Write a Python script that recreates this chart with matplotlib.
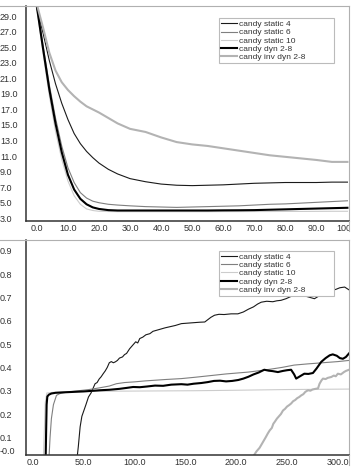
import matplotlib
matplotlib.use('Agg')
import matplotlib.pyplot as plt
from matplotlib.lines import Line2D
from matplotlib.transforms import Bbox, TransformedBbox

plt.rcParams['font.family'] = ['Liberation Sans', 'DejaVu Sans']
plt.rcParams['font.size'] = 6

labels = ['candy static 4', 'candy static 6', 'candy static 10',
          'candy dyn 2-8', 'candy inv dyn 2-8']
colors = ['#1a1a1a', '#7f7f7f', '#cccccc', '#000000', '#b3b3b3']
widths = [0.8, 0.8, 0.8, 1.5, 1.5]

# top panel, all series on the same x values
top_x = [0, 2, 4, 6, 8, 10, 12, 14, 16, 18, 20, 23, 26, 30, 35, 40, 45, 50,
         55, 60, 65, 70, 75, 80, 85, 90, 95, 100]
top_static4 = [30.0, 26.8, 23.3, 20.3, 17.8, 15.7, 13.9, 12.6, 11.6, 10.8, 10.1,
               9.3, 8.7, 8.1, 7.7, 7.4, 7.25, 7.2, 7.25, 7.3, 7.4, 7.5, 7.55,
               7.6, 7.6, 7.6, 7.65, 7.65]
top_static6 = [30.4, 25.2, 20.2, 15.9, 12.3, 9.5, 7.6, 6.3, 5.6, 5.2, 5.0, 4.8,
               4.7, 4.6, 4.5, 4.45, 4.4, 4.45, 4.5, 4.55, 4.6, 4.7, 4.8, 4.85,
               4.95, 5.05, 5.15, 5.25]
top_static10 = [30.0, 24.2, 18.8, 14.2, 10.6, 7.8, 5.9, 4.8, 4.2, 4.0, 3.9,
                3.87, 3.85, 3.85, 3.85, 3.85, 3.85, 3.85, 3.85, 3.86, 3.86,
                3.87, 3.87, 3.88, 3.88, 3.89, 3.9, 3.9]
top_dyn = [30.2, 24.8, 19.6, 15.2, 11.5, 8.6, 6.7, 5.5, 4.8, 4.4, 4.2, 4.05,
           4.0, 4.0, 4.0, 4.0, 4.0, 4.0, 4.0, 4.02, 4.03, 4.05, 4.1, 4.15,
           4.2, 4.25, 4.3, 4.35]
top_invdyn = [30.5, 27.5, 24.3, 22.0, 20.5, 19.5, 18.7, 18.0, 17.4, 17.0, 16.6,
              15.9, 15.2, 14.5, 14.1, 13.4, 12.8, 12.5, 12.3, 12.0, 11.7, 11.4,
              11.1, 10.9, 10.7, 10.5, 10.25, 10.25]

# bottom panel, each series with its own x values
bot_static4_x = [0, 43, 44.5, 46.3, 48, 50, 52, 54.5, 57, 59, 61, 63, 65, 67,
                 69, 71, 73, 75, 77, 79, 81, 83, 85, 88, 90, 92, 95, 98, 101,
                 103, 105, 108, 111, 115, 118, 122, 126, 130, 135, 140, 146,
                 152, 158, 164, 169, 172, 175, 178.6, 183, 188, 195, 201.6,
                 207, 212, 217, 221, 224.6, 230, 236, 240, 244, 249, 254, 258,
                 261, 265, 269, 273, 277, 280, 284, 287, 290, 294, 298, 302,
                 306.7, 311]
bot_static4 = [0, 0, 0.06, 0.145, 0.19, 0.215, 0.24, 0.273, 0.29, 0.31, 0.33,
               0.335, 0.35, 0.36, 0.373, 0.385, 0.40, 0.42, 0.425, 0.42, 0.424,
               0.43, 0.44, 0.445, 0.455, 0.46, 0.48, 0.495, 0.51, 0.505, 0.524,
               0.53, 0.54, 0.545, 0.555, 0.56, 0.565, 0.57, 0.575, 0.58, 0.588,
               0.59, 0.592, 0.594, 0.595, 0.605, 0.615, 0.624, 0.628, 0.627,
               0.63, 0.63, 0.638, 0.65, 0.66, 0.672, 0.68, 0.684, 0.682, 0.686,
               0.688, 0.695, 0.705, 0.712, 0.717, 0.71, 0.705, 0.70, 0.695,
               0.703, 0.713, 0.72, 0.724, 0.73, 0.735, 0.742, 0.745, 0.733]
bot_static6_x = [0, 15.5, 16.7, 18, 20, 23, 26, 28.2, 35, 45, 55, 65, 75, 82,
                 90, 100, 110, 120, 130, 146, 160, 175, 190, 212, 230, 245,
                 257, 270, 285, 300, 311]
bot_static6 = [0, 0, 0.10, 0.18, 0.24, 0.28, 0.287, 0.29, 0.295, 0.30, 0.305,
               0.312, 0.32, 0.33, 0.335, 0.338, 0.342, 0.345, 0.348, 0.352,
               0.358, 0.365, 0.372, 0.38, 0.39, 0.40, 0.41, 0.415, 0.42, 0.425,
               0.43]
bot_static10_x = [0, 10, 11, 12, 13.5, 20, 40, 80, 120, 160, 200, 250, 311]
bot_static10 = [0, 0, 0.12, 0.25, 0.29, 0.293, 0.296, 0.298, 0.299, 0.30,
                0.302, 0.305, 0.307]
bot_dyn_x = [0, 12.3, 12.8, 13.3, 14, 15.5, 18, 22, 30, 40, 50, 60, 66, 75, 85,
             92, 98.5, 105, 112, 120, 128, 136, 146, 152, 158, 165.5, 172, 178,
             184, 190, 196, 202, 207, 212, 217, 222, 227.6, 232, 236, 241, 246,
             250, 254, 257, 259, 262, 267, 271, 275.5, 279, 283.7, 288, 292,
             295, 299, 302, 305, 308, 311]
bot_dyn = [0, 0, 0.12, 0.24, 0.275, 0.283, 0.288, 0.291, 0.293, 0.295, 0.297,
           0.30, 0.302, 0.304, 0.308, 0.312, 0.316, 0.315, 0.318, 0.322, 0.321,
           0.326, 0.328, 0.326, 0.33, 0.333, 0.337, 0.342, 0.343, 0.34, 0.342,
           0.346, 0.352, 0.36, 0.37, 0.378, 0.39, 0.386, 0.384, 0.38, 0.385,
           0.388, 0.39, 0.37, 0.352, 0.36, 0.373, 0.372, 0.376, 0.395, 0.424,
           0.44, 0.452, 0.456, 0.45, 0.44, 0.437, 0.445, 0.46]
bot_invdyn_x = [0, 215, 217, 220, 223, 225, 227, 229, 231, 233, 235, 236.5, 238,
                240, 242, 244, 246, 248, 250, 252, 254, 256, 258, 260, 262, 264,
                266, 268, 270.6, 273, 275, 278, 280.5, 282, 284, 285.4, 288,
                290, 293.6, 296, 298, 300, 303, 306, 308, 311]
bot_invdyn = [0, 0, 0.02, 0.04, 0.055, 0.07, 0.085, 0.10, 0.116, 0.13, 0.14,
              0.158, 0.167, 0.18, 0.19, 0.2, 0.215, 0.222, 0.232, 0.238, 0.245,
              0.255, 0.26, 0.268, 0.273, 0.28, 0.285, 0.295, 0.302, 0.30, 0.305,
              0.308, 0.31, 0.33, 0.345, 0.352, 0.35, 0.355, 0.359, 0.365, 0.362,
              0.373, 0.37, 0.38, 0.385, 0.39]

top_xticks = [0, 10, 20, 30, 40, 50, 60, 70, 80, 90, 100]
top_yticks = [3, 5, 7, 9, 11, 13, 15, 17, 19, 21, 23, 25, 27, 29]
bot_xticks = [0, 50, 100, 150, 200, 250, 300]
bot_yticks = [0.045, 0.1, 0.2, 0.3, 0.4, 0.5, 0.6, 0.7, 0.8, 0.9]
bot_yticklabels = ['-0.0', '0.1', '0.2', '0.3', '0.4', '0.5', '0.6', '0.7',
                   '0.8', '0.9']

W, H = 362., 474.
fig = plt.figure(figsize=(W / 100, H / 100), dpi=100)


def setup_axes(ax, left_px, top_px, bottom_px):
    for s in ['left', 'bottom']:
        ax.spines[s].set_color('#333333')
        ax.spines[s].set_linewidth(1.1)
    for s in ['top', 'right']:
        ax.spines[s].set_color('#b0b0b0')
        ax.spines[s].set_linewidth(0.8)
    ax.tick_params(length=0, labelsize=6.5, labelcolor='#333333')
    ax.tick_params(axis='y', pad=left_px * 0.72)
    for lbl in ax.get_yticklabels():
        lbl.set_horizontalalignment('left')
    ax.tick_params(axis='x', pad=2)
    clip = TransformedBbox(Bbox([[0, 0], [349 / W, 1]]), fig.transFigure)
    for t in ax.xaxis.get_major_ticks():
        t.label1.set_clip_box(clip)
        t.label1.set_clip_on(True)
    # frame lines running past the axes, as in the original
    fig.add_artist(Line2D([0, left_px / W], [1 - top_px / H, 1 - top_px / H],
                          color='#b0b0b0', lw=0.8, transform=fig.transFigure))
    fig.add_artist(Line2D([349 / W, 349 / W],
                          [1 - bottom_px / H, 1 - (bottom_px + 10) / H],
                          color='#b0b0b0', lw=0.8, transform=fig.transFigure))


def add_legend(ax, ytop):
    leg = ax.legend(loc='upper left', bbox_to_anchor=(0.597, 0.0, 0.358, ytop),
                    mode='expand', borderaxespad=0, fontsize=6,
                    handlelength=1.9, handletextpad=0.25, labelspacing=0.05,
                    borderpad=0.25, fancybox=False, framealpha=1)
    leg.get_frame().set_edgecolor('#bbbbbb')
    leg.get_frame().set_linewidth(0.8)
    for t in leg.get_texts():
        t.set_color('#333333')


# top panel
ax1 = fig.add_axes([26 / W, 1 - 221 / H, 323 / W, 215 / H])
top_series = [top_static4, top_static6, top_static10, top_dyn, top_invdyn]
for (i, ys) in enumerate(top_series):
    ax1.plot(top_x, ys, color=colors[i], lw=widths[i], label=labels[i])
ax1.set_xlim(-3.5, 100.5)
ax1.set_ylim(2.65, 30.3)
ax1.set_xticks(top_xticks)
ax1.set_xticklabels(['{:.1f}'.format(v) for v in top_xticks])
ax1.set_yticks(top_yticks)
ax1.set_yticklabels(['{:.1f}'.format(v) for v in top_yticks])
setup_axes(ax1, 26, 6, 221)
add_legend(ax1, 0.943)

# bottom panel
ax2 = fig.add_axes([26 / W, 1 - 455 / H, 323 / W, 215 / H])
bot_series = [(bot_static4_x, bot_static4), (bot_static6_x, bot_static6),
              (bot_static10_x, bot_static10), (bot_dyn_x, bot_dyn),
              (bot_invdyn_x, bot_invdyn)]
for (i, (xs, ys)) in enumerate(bot_series):
    ax2.plot(xs, ys, color=colors[i], lw=widths[i], label=labels[i])
ax2.set_xlim(-7, 311)
ax2.set_ylim(0.024, 0.947)
ax2.set_xticks(bot_xticks)
ax2.set_xticklabels(['{:.1f}'.format(v) for v in bot_xticks])
ax2.set_yticks(bot_yticks)
ax2.set_yticklabels(bot_yticklabels)
setup_axes(ax2, 26, 240, 455)
add_legend(ax2, 0.949)

fig.savefig('out.png', dpi=100)
